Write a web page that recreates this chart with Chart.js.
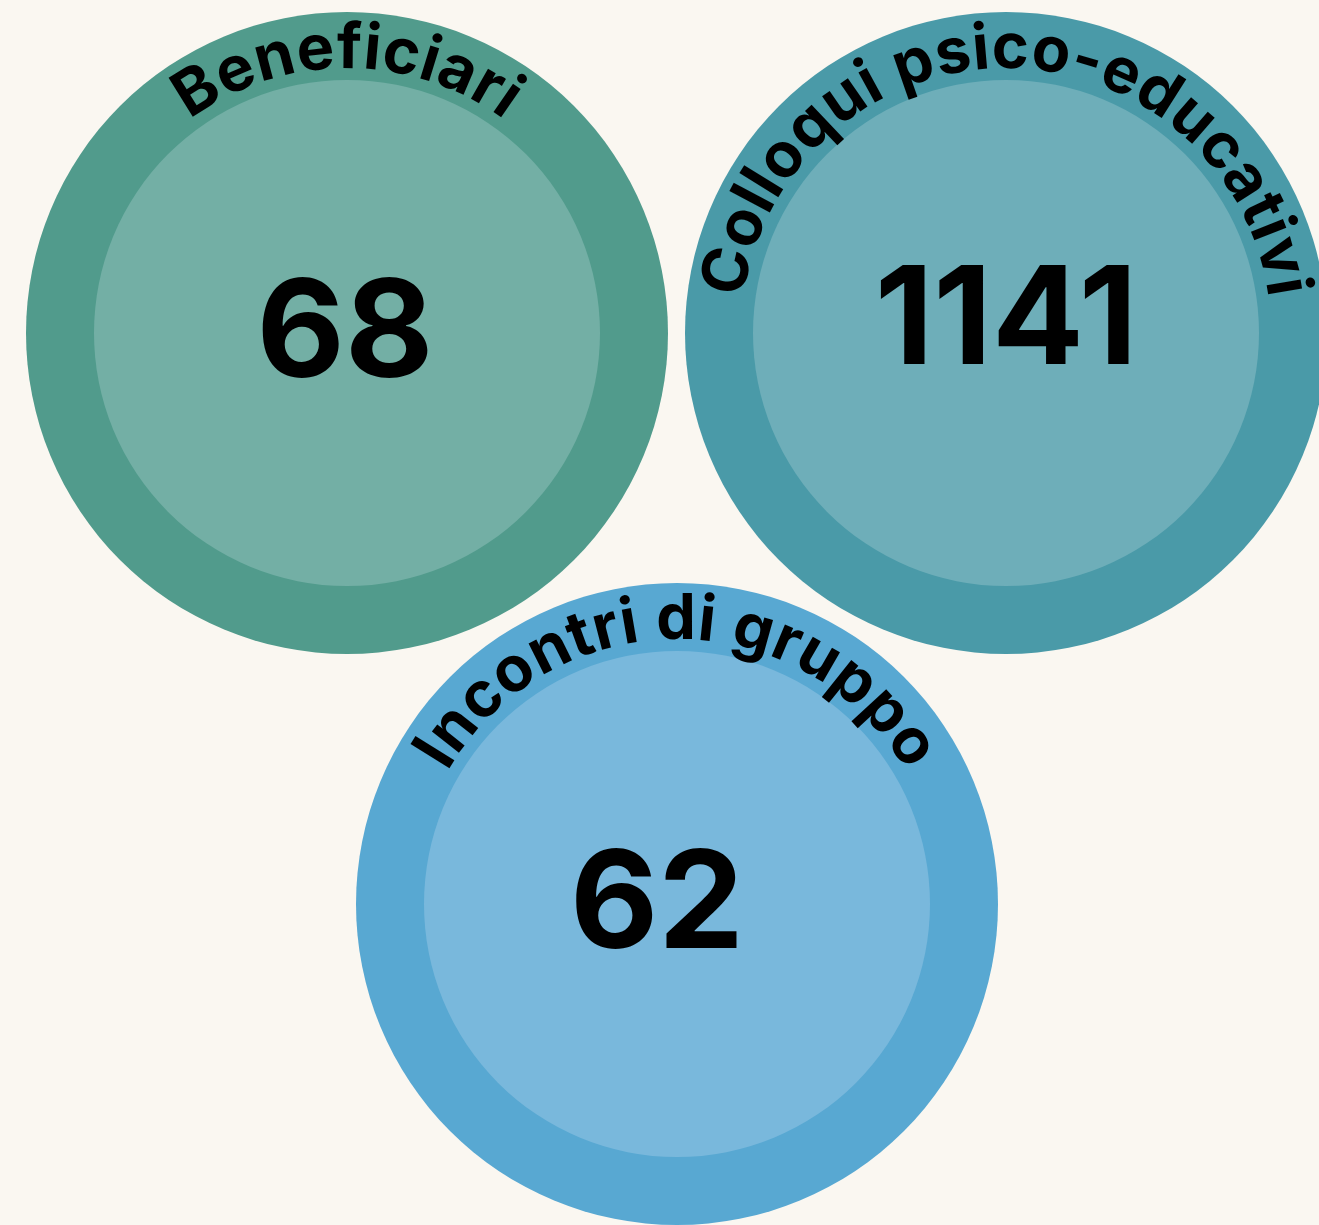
<!DOCTYPE html>
<html>
<head>
<meta charset="utf-8">
<script src="https://cdn.jsdelivr.net/npm/chart.js@4.4.1/dist/chart.umd.min.js"></script>
<style>
  html, body { margin: 0; padding: 0; background: #faf7f1; overflow: hidden; }
  #wrap { width: 1319px; height: 1225px; position: relative; }
  canvas { display: block; }
</style>
</head>
<body>
<div id="wrap"><canvas id="c" width="1319" height="1225"></canvas></div>
<script>
// ---- data ----
const categories = ['Beneficiari', 'Colloqui psico-educativi', 'Incontri di gruppo'];
const values = [68, 1141, 62];

// ---- layout (in chart units, separate from data) ----
const centerX = [347, 1006, 677];
const centerY = [333, 333, 904];
const outerRadius = 321;
const innerRadius = 253;
const labelRadius = 265;
const numberDx = [-2, 0, -20];
const numberBaseline = [44, 31, 44];

// ---- styles ----
const outerColors = ['#519b8c', '#4a9aa8', '#58a8d2'];
const innerColors = ['#73afa5', '#6eaeb9', '#79b8dc'];
const FONT_FAMILY = 'Inter, "Liberation Sans", Arial, sans-serif';

function drawArcText(ctx, text, cx, cy, r, font, spacing) {
  ctx.font = font;
  const chars = Array.from(text);
  const widths = chars.map(ch => ctx.measureText(ch).width);
  const total = widths.reduce((a, b) => a + b, 0) + spacing * (chars.length - 1);
  let a = -total / (2 * r);
  ctx.textAlign = 'center';
  ctx.textBaseline = 'alphabetic';
  chars.forEach((ch, i) => {
    const w = widths[i];
    const ang = a + (w / 2) / r;
    ctx.save();
    ctx.translate(cx + r * Math.sin(ang), cy - r * Math.cos(ang));
    ctx.rotate(ang);
    ctx.fillText(ch, 0, 0);
    ctx.restore();
    a += (w + spacing) / r;
  });
}

const labelsPlugin = {
  id: 'circleLabels',
  afterDatasetsDraw(chart) {
    const ctx = chart.ctx;
    const xs = chart.scales.x, ys = chart.scales.y;
    const unit = xs.getPixelForValue(1) - xs.getPixelForValue(0);
    ctx.save();
    ctx.fillStyle = '#000000';
    categories.forEach((cat, i) => {
      const cx = xs.getPixelForValue(centerX[i]);
      const cy = ys.getPixelForValue(centerY[i]);
      // value in the centre
      ctx.font = '700 ' + Math.round(136 * unit) + 'px ' + FONT_FAMILY;
      ctx.textAlign = 'center';
      ctx.textBaseline = 'alphabetic';
      ctx.fillText(String(values[i]), cx + numberDx[i] * unit, cy + numberBaseline[i] * unit);
      // curved category label
      drawArcText(ctx, cat, cx, cy, labelRadius * unit, '700 ' + Math.round(63 * unit) + 'px ' + FONT_FAMILY, 0.5 * unit);
    });
    ctx.restore();
  }
};

function build() {
  const outerData = categories.map((c, i) => ({ x: centerX[i], y: centerY[i], r: outerRadius }));
  const innerData = categories.map((c, i) => ({ x: centerX[i], y: centerY[i], r: innerRadius }));
  new Chart(document.getElementById('c'), {
    type: 'bubble',
    data: {
      datasets: [
        { label: 'outer', order: 2, data: outerData, backgroundColor: outerColors, borderWidth: 0, hoverBorderWidth: 0, clip: false },
        { label: 'inner', order: 1, data: innerData, backgroundColor: innerColors, borderWidth: 0, hoverBorderWidth: 0, clip: false }
      ]
    },
    options: {
      responsive: false,
      animation: false,
      events: [],
      layout: { padding: 0, autoPadding: false },
      plugins: { legend: { display: false }, tooltip: { enabled: false } },
      scales: {
        x: { type: 'linear', display: false, min: 0, max: 1319 },
        y: { type: 'linear', display: false, min: 0, max: 1225, reverse: true }
      }
    },
    plugins: [labelsPlugin]
  });
}

if (document.fonts && document.fonts.load) {
  Promise.all([
    document.fonts.load('700 63px Inter'),
    document.fonts.load('700 136px Inter')
  ]).then(build, build);
} else {
  build();
}
</script>
</body>
</html>
